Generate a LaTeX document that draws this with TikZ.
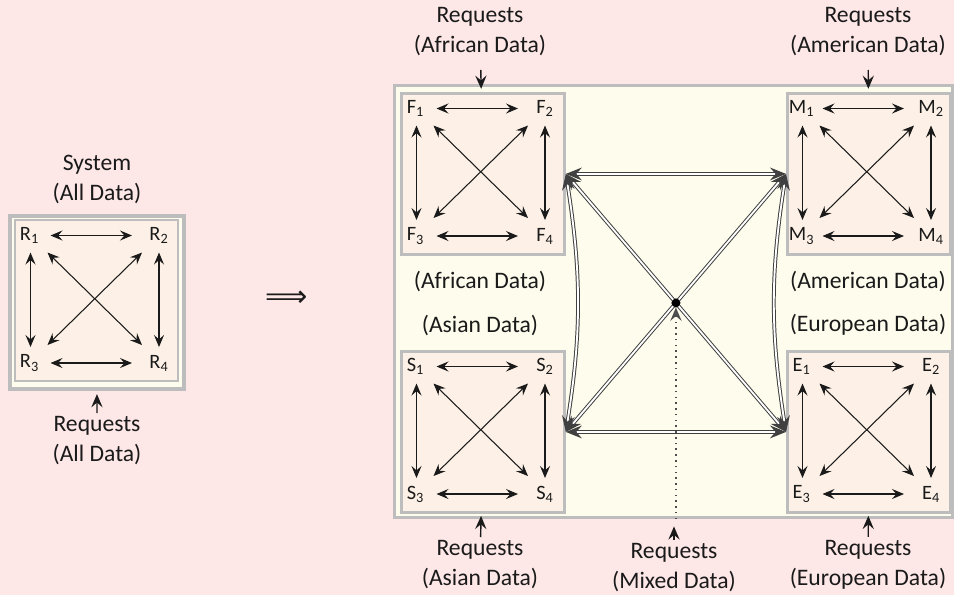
\documentclass[tikz,border=0pt]{standalone}
\usepackage{fontspec}
\setmainfont{Carlito}
\newfontfamily\symfont{DejaVu Sans}
\usetikzlibrary{arrows.meta,calc}

\definecolor{bgpink}{HTML}{FDE7E7}
\definecolor{cream}{HTML}{FEFCEC}
\definecolor{peach}{HTML}{FDF1E7}
\definecolor{boxgray}{HTML}{BDBDBD}
\definecolor{ink}{HTML}{1A1A1A}

\tikzset{
  txt/.style={font=\fontsize{16.8}{21.3}\selectfont, text=ink, align=center, inner sep=1pt},
  lbl/.style={font=\fontsize{14.5}{16}\selectfont, text=ink, inner sep=0pt},
  cbox/.style={draw=boxgray, line width=2pt, fill=peach, inner sep=0pt,
    minimum width=4.075cm, minimum height=4.025cm, anchor=north west},
  link/.style={{Stealth[length=3mm,width=2.5mm,inset=1.1mm]}-{Stealth[length=3mm,width=2.5mm,inset=1.1mm]},
    line width=0.75pt, draw=ink},
  req/.style={-{Stealth[length=3.3mm,width=2.8mm,inset=1.2mm]}, line width=1pt, draw=ink},
  dbl/.style={{Stealth[length=4mm,width=3.2mm,inset=1.4mm]}-{Stealth[length=4mm,width=3.2mm,inset=1.4mm]},
    double=white, draw=black!75, line width=0.7pt, double distance=1.3pt},
  hubdot/.style={circle, fill=black, inner sep=0pt, minimum size=0.22cm},
}

% one cluster of four replicas: #1 extra box style, #2 name, #3 letter, #4/#5 top-left corner
\newcommand\cluster[5][]{%
  \node[cbox,#1] (#2box) at (#4,#5) {};
  \node[lbl] (#21) at ($(#2box.north west)+(15.5,16.5)$) {#3\textsubscript{1}};
  \node[lbl] (#22) at ($(#2box.north west)+(145,16.5)$) {#3\textsubscript{2}};
  \node[lbl] (#23) at ($(#2box.north west)+(15.5,144)$) {#3\textsubscript{3}};
  \node[lbl] (#24) at ($(#2box.north west)+(145,144)$) {#3\textsubscript{4}};
  \draw[link] ($(#21)+(21,0)$) -- ($(#22)+(-27,0)$);
  \draw[link] ($(#23)+(21,0)$) -- ($(#24)+(-27,0)$);
  \draw[link] ($(#21)+(1,17)$) -- ($(#23)+(1,-16)$);
  \draw[link] ($(#22)+(0,17)$) -- ($(#24)+(0,-16)$);
  \draw[link] ($(#21)+(18,17)$) -- ($(#24)+(-17,-18)$);
  \draw[link] ($(#22)+(-17,17)$) -- ($(#23)+(18,-18)$);
}

\begin{document}
\begin{tikzpicture}[x=0.025cm, y=-0.025cm]
  \fill[bgpink] (0,0) rectangle (954,595);
  \useasboundingbox (0,0) rectangle (954,595);

  % ---- single system ----
  \node[draw=boxgray, line width=2.6pt, fill=cream, inner sep=0pt, anchor=north west,
        minimum width=4.35cm, minimum height=4.33cm] (sysframe) at (8,214) {};
  \cluster[line width=1.3pt]{R}{R}{14}{219}
  \node[txt] (sysname) at (97,179) {System\\(All Data)};
  \node[txt] (reqall) at (97,441) {Requests\\(All Data)};
  \draw[req, shorten <=0.05cm, shorten >=0.08cm] (reqall) -- (sysframe);

  \node[font=\symfont\fontsize{21}{24}\selectfont, text=ink] (implies) at (287,299) {⟹};

  % ---- partitioned system ----
  \node[draw=boxgray, line width=2.2pt, fill=cream, inner sep=0pt, anchor=north west,
        minimum width=13.95cm, minimum height=10.8cm] (region) at (393,84) {};

  \cluster{F}{F}{400}{92}
  \cluster{M}{M}{786}{92}
  \cluster{S}{S}{400}{350}
  \cluster{E}{E}{786}{350}

  \node[txt] (afr) at (480,281) {(African Data)};
  \node[txt] (asi) at (480,325) {(Asian Data)};
  \node[txt] (ame) at (868,281) {(American Data)};
  \node[txt] (eur) at (868,325) {(European Data)};

  % links between the partitions
  \node[hubdot] (hub) at ($(Fbox.east)!0.5!(Ebox.west)$) {};
  \draw[dbl] (Fbox.east) -- (Mbox.west);
  \draw[dbl] (Sbox.east) -- (Ebox.west);
  \draw[dbl] (Fbox.east) to[bend left=9] (Sbox.east);
  \draw[dbl] (Mbox.west) to[bend right=9] (Ebox.west);
  \draw[dbl] (Fbox.east) -- (Ebox.west);
  \draw[dbl] (Mbox.west) -- (Sbox.east);
  \node[hubdot] at (hub) {};

  % incoming requests
  \node[txt] (reqF) at (480,32) {Requests\\(African Data)};
  \node[txt] (reqM) at (868,32) {Requests\\(American Data)};
  \node[txt] (reqS) at (480,565) {Requests\\(Asian Data)};
  \node[txt] (reqE) at (868,565) {Requests\\(European Data)};
  \node[txt] (reqX) at (674,568) {Requests\\(Mixed Data)};

  \draw[req, shorten <=0.3cm, shorten >=0.08cm] (reqF) -- (Fbox);
  \draw[req, shorten <=0.3cm, shorten >=0.08cm] (reqM) -- (Mbox);
  \draw[req, shorten <=0.05cm, shorten >=0.05cm] (reqS) -- (Sbox);
  \draw[req, shorten <=0.05cm, shorten >=0.05cm] (reqE) -- (Ebox);
  \draw[req, shorten <=0.05cm, shorten >=0.18cm] (reqX) -- (reqX |- region.south);
  \draw[line width=1.1pt, draw=black!70, dash pattern=on 1.1pt off 3pt,
        -{Stealth[length=3.3mm,width=2.8mm,inset=1.2mm,fill=black!65]}]
        (hub |- region.south) -- (hub);
\end{tikzpicture}
\end{document}
